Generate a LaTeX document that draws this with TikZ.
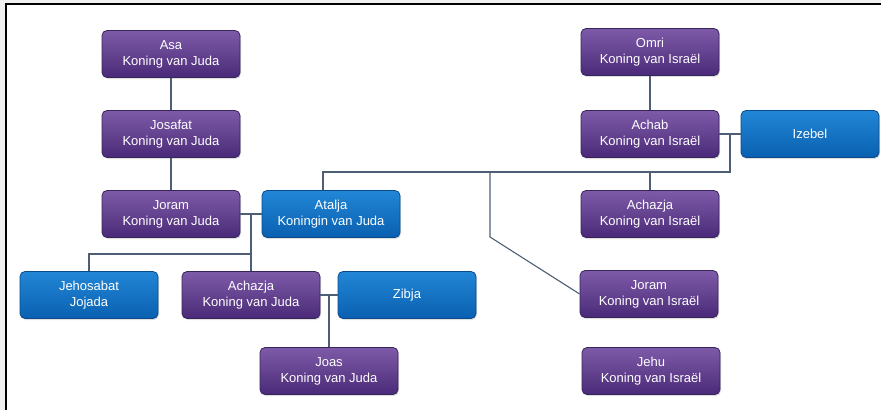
\documentclass[tikz,border=0pt]{standalone}
\usepackage{fontspec}
\setmainfont{Liberation Sans}
\usetikzlibrary{shadows,calc}
\definecolor{purtop}{HTML}{7E5BA8}
\definecolor{purbot}{HTML}{4A2A78}
\definecolor{purbrd}{HTML}{35255A}
\definecolor{blutop}{HTML}{2286D6}
\definecolor{blubot}{HTML}{0A60B0}
\definecolor{blubrd}{HTML}{0B4A8A}
\definecolor{linec}{HTML}{4E5E74}
\tikzset{
  box/.style={rounded corners=5pt, minimum width=138pt, minimum height=47pt,
    align=center, text=white, font=\fontsize{13}{16}\selectfont, line width=0.8pt,
    drop shadow={shadow xshift=1pt, shadow yshift=-1.5pt, opacity=0.25}},
  pbox/.style={box, draw=purbrd, top color=purtop, bottom color=purbot},
  bbox/.style={box, draw=blubrd, top color=blutop, bottom color=blubot},
  conn/.style={draw=linec, line width=1.1pt}
}
\begin{document}
\begin{tikzpicture}[x=1pt,y=-1pt]
\useasboundingbox (0,0) rectangle (881,410);
\fill[gray!12] (0,0) rectangle (881,3);
\fill[gray!12] (0,0) rectangle (5,410);
\draw[black, line width=2pt] (6,410) -- (6,4) -- (881,4);

\node[pbox] (asa) at (171,54) {Asa\\Koning van Juda};
\node[pbox] (josafat) at (171,134) {Josafat\\Koning van Juda};
\node[pbox] (joramJ) at (171,214) {Joram\\Koning van Juda};
\node[bbox] (atalja) at (331,214) {Atalja\\Koningin van Juda};
\node[bbox] (jehosabat) at (89,295) {Jehosabat\\Jojada};
\node[pbox] (achazjaJ) at (251,295) {Achazja\\Koning van Juda};
\node[bbox] (zibja) at (407,295) {Zibja};
\node[pbox] (joas) at (329,371) {Joas\\Koning van Juda};
\node[pbox] (omri) at (650,52) {Omri\\Koning van Israël};
\node[pbox] (achab) at (650,134) {Achab\\Koning van Israël};
\node[bbox] (izebel) at (810,134) {Izebel};
\node[pbox] (achazjaI) at (650,214) {Achazja\\Koning van Israël};
\node[pbox] (joramI) at (649,294) {Joram\\Koning van Israël};
\node[pbox] (jehu) at (651,371) {Jehu\\Koning van Israël};

\coordinate (m1) at (730,134);
\coordinate (m1b) at (730,172);
\coordinate (b1) at (323,172);
\coordinate (b2) at (650,172);
\coordinate (b3) at (490,172);
\coordinate (b3d) at (490,237);
\coordinate (m2) at (251,214);
\coordinate (m2b) at (251,254);
\coordinate (jb) at (89,254);
\coordinate (m3) at (329,295);

\draw[conn] (asa) -- (josafat);
\draw[conn] (josafat) -- (joramJ);
\draw[conn] (omri) -- (achab);
\draw[conn] (achab.east) -- (izebel.west);
\draw[conn] (m1) -- (m1b) -- (b1) -- (b1 |- atalja.north);
\draw[conn] (b2) -- (achazjaI.north);
\draw[conn] (b3) -- (b3d) -- (joramI.west);
\draw[conn] (joramJ.east) -- (atalja.west);
\draw[conn] (m2) -- (achazjaJ.north);
\draw[conn] (m2b) -- (jb) -- (jehosabat.north);
\draw[conn] (achazjaJ.east) -- (zibja.west);
\draw[conn] (m3) -- (joas.north);
\end{tikzpicture}
\end{document}
